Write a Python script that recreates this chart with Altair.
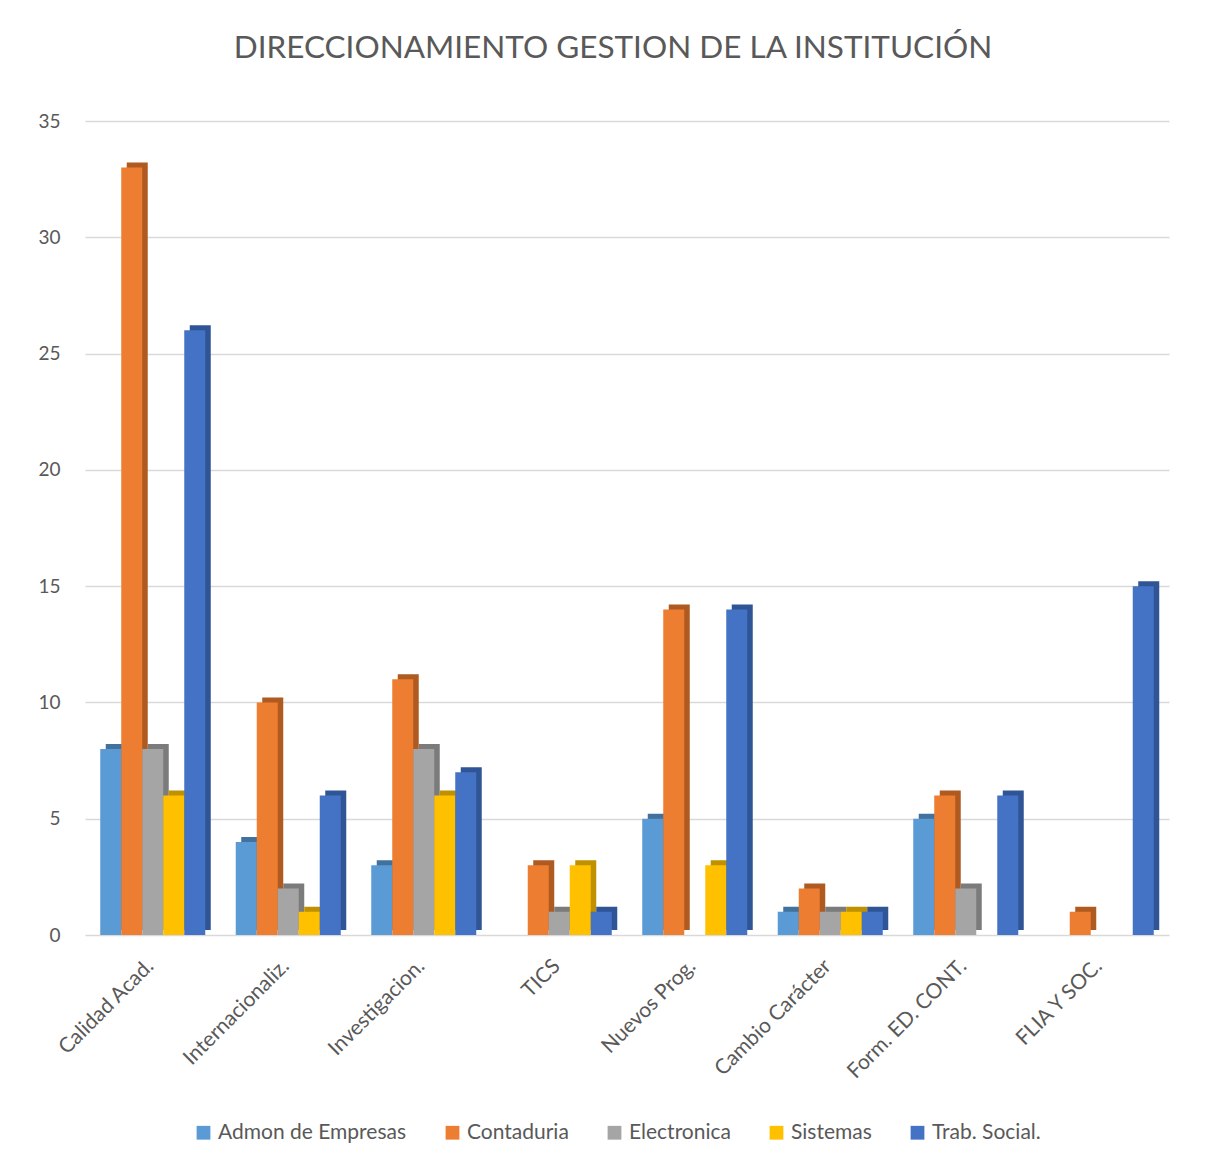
import altair as alt
import pandas as pd

categories = ["Calidad Acad.", "Internacionaliz.", "Investigacion.", "TICS",
              "Nuevos Prog.", "Cambio Carácter", "Form. ED. CONT.", "FLIA Y SOC."]
series = ["Admon de Empresas", "Contaduria", "Electronica", "Sistemas", "Trab. Social."]
admon = [8, 4, 3, 0, 5, 1, 5, 0]
contaduria = [33, 10, 11, 3, 14, 2, 6, 1]
electronica = [8, 2, 8, 1, 0, 1, 2, 0]
sistemas = [6, 1, 6, 3, 3, 1, 0, 0]
trabsocial = [26, 6, 7, 1, 14, 1, 6, 15]

front_colors = ["#5B9BD5", "#ED7D31", "#A5A5A5", "#FFC000", "#4472C4"]
side_colors = ["#41719C", "#AE5A21", "#7B7B7B", "#BF9000", "#2F5597"]

rows = []
for s, vals in zip(series, [admon, contaduria, electronica, sistemas, trabsocial]):
    for c, v in zip(categories, vals):
        rows.append({"cat": c, "serie": s, "value": v})
df = pd.DataFrame(rows)

W, H = 1084, 814
group_w = W / 8 * 0.775

x = alt.X("cat:N", sort=categories,
          scale=alt.Scale(paddingInner=0.225, paddingOuter=0.1125),
          axis=alt.Axis(title=None, labelAngle=-45, labelFontSize=21, labelColor="#595959",
                        labelFont="Lato", labelPadding=20, labelOffset=-10, ticks=False,
                        domain=False))
y = alt.Y("value:Q", scale=alt.Scale(domain=[0, 35]),
          axis=alt.Axis(title=None, values=[0, 5, 10, 15, 20, 25, 30, 35], labelFontSize=19,
                        labelColor="#595959", labelFont="Lato", labelPadding=25, ticks=False,
                        domain=False, gridColor="#D9D9D9", gridWidth=1.5))

back = alt.Chart(df).mark_bar(yOffset=-5).encode(
    x=x,
    xOffset=alt.XOffset("serie:N", sort=series,
                        scale=alt.Scale(domain=series, range=[5.5, group_w + 5.5])),
    y=y,
    color=alt.Color("serie:N", sort=series,
                    scale=alt.Scale(domain=series, range=side_colors), legend=None),
)
front = alt.Chart(df).mark_bar().encode(
    x=x,
    xOffset=alt.XOffset("serie:N", sort=series,
                        scale=alt.Scale(domain=series, range=[0, group_w])),
    y=y,
    color=alt.Color("serie:N", sort=series,
                    scale=alt.Scale(domain=series, range=front_colors),
                    legend=alt.Legend(title=None, orient="none", direction="horizontal",
                                      legendX=108, legendY=1001, symbolType="square",
                                      symbolSize=190, symbolStrokeWidth=0,
                                      labelFontSize=21, labelFont="Lato", labelColor="#595959",
                                      labelLimit=0, columnPadding=35, padding=0)),
)

chart = alt.layer(back, front).resolve_scale(color="independent", xOffset="independent").properties(
    width=W, height=H,
    title=alt.TitleParams("DIRECCIONAMIENTO GESTION DE LA INSTITUCIÓN", fontSize=31.5,
                          font="Lato", fontWeight="normal", color="#595959",
                          offset=48, dx=-14),
    autosize=alt.AutoSizeParams(type="none"),
    padding={"left": 77, "top": 113, "right": 30, "bottom": 223},
    background="white",
).configure_view(stroke=None)

chart.save("out.html", embed_options={"renderer": "svg", "actions": False})
